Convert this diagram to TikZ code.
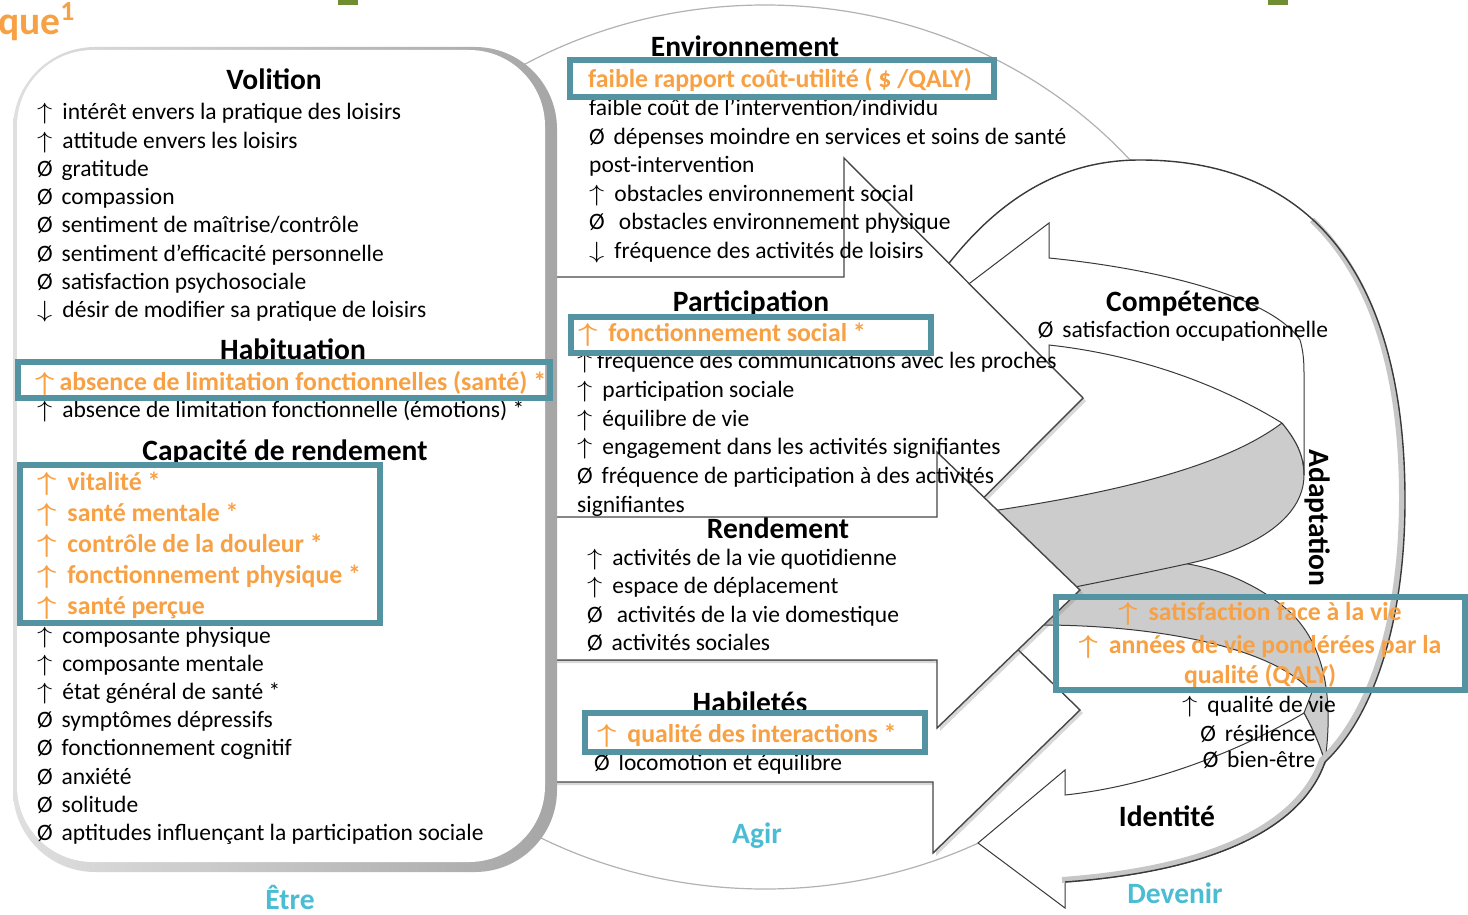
\documentclass[tikz,border=0pt]{standalone}
\usepackage{fix-cm}
\usepackage{graphicx}
\usepackage{fontspec}
\setmainfont{Carlito}
\usetikzlibrary{shadows}

\definecolor{orangeQ}{RGB}{247,161,68}
\definecolor{tealQ}{RGB}{84,148,162}
\definecolor{cyanQ}{RGB}{74,189,212}
\definecolor{greenQ}{RGB}{112,141,50}

\newcommand{\hausse}{\scalebox{1.3}[1]{$\uparrow$}\kern0.2em}
\newcommand{\baisse}{\scalebox{1.3}[1]{$\downarrow$}\kern0.2em}
\newcommand{\nul}{Ø\kern0.15em}
% outer edge of the Devenir sweep, from behind the Agir arrows round to the Identite head
\newcommand{\ringpath}{(935,282) .. controls (1000,190) and (1070,160) .. (1140,160) .. controls (1330,160) and (1405,300) .. (1405,500) .. controls (1405,630) and (1370,720) .. (1325,762) .. controls (1305,820) and (1230,870) .. (1065,882)}

\tikzset{
  hdr/.style={font=\fontsize{29.5}{34}\selectfont\bfseries, anchor=base, inner sep=0pt},
  entry/.style={font=\fontsize{23.5}{28}\selectfont, anchor=base west, inner sep=0pt},
  hot/.style={font=\fontsize{25.8}{30}\selectfont\bfseries\boldmath, text=orangeQ, anchor=base west, inner sep=0pt},
  phase/.style={hdr, text=cyanQ},
  tealbox/.style={draw=tealQ, line width=5.5pt},
  block/.style={draw=gray!55!black, line width=1.4pt, fill=white, drop shadow={shadow xshift=3pt, shadow yshift=-3pt, opacity=0.3}},
  band/.style={draw=gray!45!black, line width=1pt, fill=gray!40},
  sweep/.style={draw=gray!45!black, line width=1pt, fill=white},
}

\begin{document}
\begin{tikzpicture}[x=1pt, y=-1pt]
\useasboundingbox (0,0) rectangle (1468,915);
\fill[white] (0,0) rectangle (1468,915);

\fill[greenQ] (338,-2) rectangle (358,5);
\fill[greenQ] (1268,-2) rectangle (1288,5);
\node[font=\fontsize{39.5}{44}\selectfont\bfseries, text=orangeQ, anchor=base west, inner sep=0pt] (titre) at (-2,35) {que\textsuperscript{1}};

% Agir circle
\draw[gray!60, line width=1.2pt, fill=white] (765,447) ellipse [x radius=480pt, y radius=442pt];

% Devenir circle with its two sweeps
\fill[white] \ringpath -- (1000,700) -- (960,400) -- cycle;
\path[band] (1040,625) .. controls (1150,625) and (1270,645) .. (1312,692) -- (1304,713) .. controls (1312,728) and (1318,740) .. (1325,762) .. controls (1332,710) and (1330,650) .. (1290,612) .. controls (1255,582) and (1210,562) .. (1150,560) -- (1060,580) -- cycle;
\path[band] (985,512) .. controls (1100,495) and (1220,470) .. (1282,423) .. controls (1296,440) and (1304,455) .. (1304,475) .. controls (1304,520) and (1250,550) .. (1191,563) .. controls (1150,572) and (1110,580) .. (1060,590) -- cycle;
\path[sweep] (1049,258) .. controls (1150,268) and (1270,295) .. (1300,340) .. controls (1303,350) and (1304,360) .. (1304,373) -- (1304,475) .. controls (1304,455) and (1296,440) .. (1282,423) .. controls (1220,385) and (1140,355) .. (1049,345) -- (1049,380) -- (945,302) -- (1049,223) -- cycle;
\path[sweep] (1304,713) .. controls (1250,745) and (1160,785) .. (1065,795) -- (1065,770) -- (978,843) -- (1065,908) -- (1065,882) .. controls (1230,870) and (1305,820) .. (1325,762) .. controls (1318,740) and (1312,728) .. (1304,713) -- cycle;
\draw[gray!45, line width=6pt, xshift=-3pt, yshift=2pt] (1315,222) .. controls (1378,282) and (1405,380) .. (1405,500) .. controls (1405,630) and (1370,720) .. (1325,762) .. controls (1305,820) and (1230,870) .. (1065,882);
\draw[gray!45!black, line width=1.4pt] \ringpath;

% Agir arrows
\path[block] (540,277) -- (844,277) -- (844,158) -- (1083,398) -- (844,638) -- (844,519) -- (540,519) -- cycle;
\path[block] (540,660) -- (933,660) -- (933,567) -- (1080,710) -- (933,853) -- (933,782) -- (540,782) -- cycle;
\path[block] (540,517) -- (937,517) -- (937,452) -- (1080,590) -- (937,728) -- (937,660) -- (540,660) -- cycle;

% Etre panel
\shade[left color=gray!25, right color=gray!70, rounded corners=82pt] (13,47) rectangle (557,872);
\fill[white, rounded corners=76pt] (17,50) rectangle (545,862);

% Etre
\node[hdr] (volition) at (274,90) {Volition};
\foreach \txt [count=\i from 0] in {
  {\hausse{} intérêt envers la pratique des loisirs},
  {\hausse{} attitude envers les loisirs},
  {\nul{} gratitude},
  {\nul{} compassion},
  {\nul{} sentiment de maîtrise/contrôle},
  {\nul{} sentiment d’efficacité personnelle},
  {\nul{} satisfaction psychosociale},
  {\baisse{} désir de modifier sa pratique de loisirs}}
  \node[entry] (volition-\i) at (37,{120+28.2*\i}) {\txt};
\node[hdr] (habituation) at (293,359) {Habituation};
\node[hot] (habituation-0) at (35,390) {\hausse{}absence de limitation fonctionnelles (santé) *};
\node[entry] (habituation-1) at (37,417) {\hausse{} absence de limitation fonctionnelle (émotions) *};
\node[hdr] (capacite) at (285,460) {Capacité de rendement};
\foreach \txt [count=\i from 0] in {
  {\hausse{} vitalité *},
  {\hausse{} santé mentale *},
  {\hausse{} contrôle de la douleur *},
  {\hausse{} fonctionnement physique *},
  {\hausse{} santé perçue}}
  \node[hot] (capacite-\i) at (37,{490+31*\i}) {\txt};
\foreach \txt [count=\i from 5] in {
  {\hausse{} composante physique},
  {\hausse{} composante mentale},
  {\hausse{} état général de santé *},
  {\nul{} symptômes dépressifs},
  {\nul{} fonctionnement cognitif},
  {\nul{} anxiété},
  {\nul{} solitude},
  {\nul{} aptitudes influençant la participation sociale}}
  \node[entry] (capacite-\i) at (37,{643.5+28.1*(\i-5)}) {\txt};
\node[phase] (etre) at (290,909) {Être};

% Agir
\node[hdr] (environnement) at (745,57) {Environnement};
\node[hot] (environnement-0) at (588,88) {faible rapport coût-utilité ( \$ /QALY)};
\foreach \txt [count=\i] in {
  {faible coût de l’intervention/individu},
  {\nul{} dépenses moindre en services et soins de santé},
  {post-intervention},
  {\hausse{} obstacles environnement social},
  {\nul{}~ obstacles environnement physique},
  {\baisse{} fréquence des activités de loisirs}}
  \node[entry] (environnement-\i) at (589,{115.5+28.6*(\i-1)}) {\txt};
\node[hdr] (participation) at (751,311) {Participation};
\node[hot] (participation-0) at (578,341) {\hausse{} fonctionnement social *};
\foreach \txt [count=\i] in {
  {\hausse{}fréquence des communications avec les proches},
  {\hausse{} participation sociale},
  {\hausse{} équilibre de vie},
  {\hausse{} engagement dans les activités signifiantes},
  {\nul{} fréquence de participation à des activités},
  {signifiantes}}
  \node[entry] (participation-\i) at (577,{368.5+28.8*(\i-1)}) {\txt};
\node[hdr] (rendement) at (778,538) {Rendement};
\foreach \txt [count=\i from 0] in {
  {\hausse{} activités de la vie quotidienne},
  {\hausse{} espace de déplacement},
  {\nul{}~ activités de la vie domestique},
  {\nul{} activités sociales}}
  \node[entry] (rendement-\i) at (587,{565.5+28.3*\i}) {\txt};
\node[hdr] (habiletes) at (750,712) {Habiletés};
\node[hot] (habiletes-0) at (597,742) {\hausse{} qualité des interactions *};
\node[entry] (habiletes-1) at (594,770.5) {\nul{} locomotion et équilibre};
\node[phase] (agir) at (757,843) {Agir};

% Devenir
\node[hdr] (competence) at (1183,311) {Compétence};
\node[entry, anchor=base] (competence-0) at (1183,337.5) {\nul{} satisfaction occupationnelle};
\node[hdr, anchor=center, rotate=-90] (adaptation) at (1318,518) {Adaptation};
\node[hot, anchor=base] (vie-0) at (1260,620) {\hausse{} satisfaction face à la vie};
\node[hot, anchor=base] (vie-1) at (1260,653) {\hausse{} années de vie pondérées par la};
\node[hot, anchor=base] (vie-2) at (1260,683) {qualité (QALY)};
\node[entry, anchor=base] (vie-3) at (1259,712.5) {\hausse{} qualité de vie};
\node[entry, anchor=base] (vie-4) at (1258,741.5) {\nul{} résilience};
\node[entry, anchor=base] (vie-5) at (1259,767.5) {\nul{} bien-être};
\node[hdr] (identite) at (1167,826) {Identité};
\node[phase] (devenir) at (1175,903) {Devenir};

% highlighted results
\draw[tealbox] (570,60) rectangle (994,97);
\draw[tealbox] (571,317) rectangle (931,353);
\draw[tealbox] (18,362) rectangle (550,398);
\draw[tealbox] (20,465) rectangle (380,623);
\draw[tealbox] (585,713) rectangle (925,752);
\draw[tealbox] (1056,597) rectangle (1465,690);
\end{tikzpicture}
\end{document}
